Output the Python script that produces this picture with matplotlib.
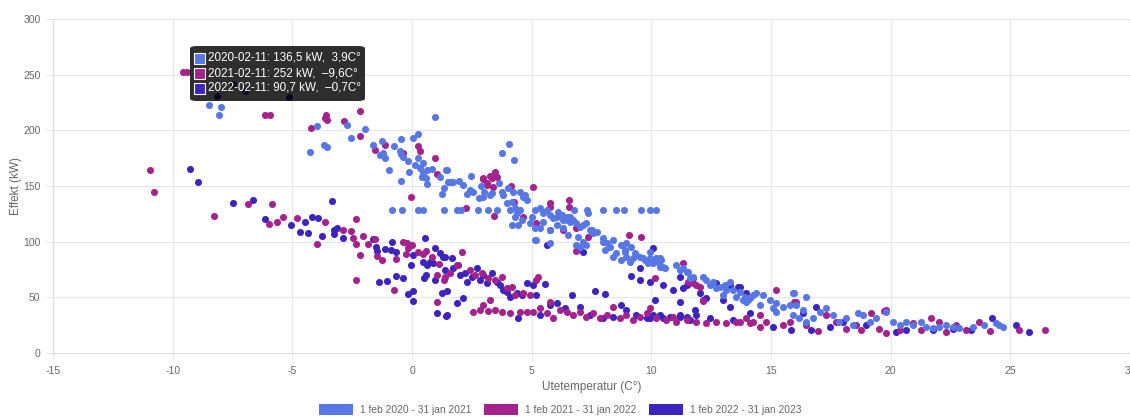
import matplotlib
matplotlib.use("Agg")
import matplotlib.pyplot as plt
from matplotlib.patches import FancyBboxPatch, Rectangle, Patch

plt.rcParams['font.family'] = ['Liberation Sans', 'DejaVu Sans']

# (temperature C, power kW), one list per season
season_labels = ['1 feb 2020 - 31 jan 2021', '1 feb 2021 - 31 jan 2022', '1 feb 2022 - 31 jan 2023']
season_colors = ['#5677E4', '#A4218E', '#3D24BF']

pts_2020 = [
    (-8.47, 223), (-7.97, 221), (-8.05, 214), (-3.95, 204), (-2.73, 205), (-1.95, 201.5), (-2.56, 193),
    (-4.26, 180.6), (-3.66, 187), (-3.56, 185.4), (0.95, 212), (-1.64, 187), (-1.25, 190.7), (-0.75, 186.3),
    (-0.45, 192.3), (0.06, 193.4), (0.24, 196.5), (-1.34, 178), (-1.14, 175), (-1.2, 179.4), (-0.5, 181),
    (-0.36, 176.4), (-0.45, 178.5), (-0.15, 172.8), (0.26, 175.5), (0.14, 168.9), (0.45, 170.4), (0.33, 165.9),
    (0.47, 161.4), (0.64, 164.4), (0.82, 165.3), (0.64, 151.6), (0.58, 157), (0.4, 158.4), (1.17, 158),
    (1.42, 164.4), (1.52, 154), (1.34, 148.5), (1.25, 143), (-0.95, 164), (-0.45, 154.8), (-0.14, 162.3),
    (-0.85, 128), (-0.43, 128), (0.26, 128), (0.45, 128), (1.34, 128), (1.87, 128), (2.03, 128), (2.74, 128),
    (3.16, 128), (3.56, 128), (6.77, 128), (7.33, 128), (7.96, 128), (8.54, 128), (8.85, 128), (9.56, 128),
    (9.96, 128), (10.18, 128),
    (4.06, 188), (3.74, 179.4), (4.26, 173.4), (1.45, 164.4), (1.62, 154), (1.7, 153.3), (1.97, 154.5),
    (2.12, 151), (2.45, 159), (2.28, 142.6), (2.56, 144.4), (2.42, 146.5), (2.87, 150), (2.95, 140.4),
    (2.81, 139), (3.02, 145), (3.26, 142), (3.33, 144), (3.64, 152.5), (3.74, 145), (3.81, 142), (4.02, 148),
    (4.23, 145), (4.16, 136), (3.95, 134.5), (4.51, 145), (4.72, 142), (4.79, 137.5), (4.3, 130), (4.51, 128.5),
    (4.37, 125.5),
    (5.0, 122.5), (5.13, 128), (5.34, 130), (5.48, 125.5), (5.62, 128.5), (5.76, 124), (5.9, 121), (6.04, 122.5),
    (6.11, 127), (6.25, 124), (6.32, 119.5), (6.46, 122.5), (6.59, 118), (6.73, 119.5), (6.87, 116.5),
    (7.01, 113.5), (7.15, 115), (7.29, 117), (7.36, 125.5), (7.5, 110.5), (7.57, 107.5), (7.71, 109),
    (7.98, 103), (8.13, 98.5), (8.05, 92.5), (8.26, 95.5), (8.4, 86.5), (8.54, 89.5), (8.75, 83.6),
    (8.89, 92.5), (8.96, 98.5), (9.17, 95.5), (9.31, 89.5), (9.52, 86.5), (9.72, 83.6), (9.93, 85),
    (10.07, 80.6), (10.21, 85), (10.42, 83.6),
    (4.65, 140.4), (4.09, 128.5), (4.3, 122.5), (4.58, 119.5), (4.44, 115), (4.92, 116.5), (5.13, 112),
    (5.2, 101.5), (5.76, 98.5), (6.94, 104.5), (7.15, 100), (7.29, 97), (7.01, 95.5),
    (4.16, 115), (5.13, 101.5), (5.34, 112), (5.76, 110.5), (5.48, 118), (6.04, 115), (6.32, 112),
    (6.46, 119.5), (6.59, 122.5), (6.53, 106), (6.87, 97), (7.43, 110.5), (7.98, 100), (8.4, 101.5),
    (8.75, 97), (8.89, 91), (8.96, 86.5), (9.24, 85), (9.1, 82), (9.38, 88), (9.66, 85), (9.86, 80.5),
    (10.28, 82), (10.35, 77.5), (9.93, 91),
    (10.56, 76), (11.05, 79), (11.19, 74.6), (11.53, 73), (11.74, 68.5), (12.16, 68.5), (12.3, 65.6),
    (12.58, 64), (12.86, 59.6), (13.06, 61), (13.13, 56.6), (13.41, 56.6), (13.69, 55), (13.9, 50.6),
    (14.04, 47.6),
    (10.07, 83.6), (10.35, 85), (10.49, 77.5), (11.32, 76), (11.47, 73), (11.6, 67), (12.44, 61),
    (12.72, 58.1), (13.27, 64), (12.99, 52.1), (13.55, 50.6), (13.83, 47.6), (14.11, 49.1), (14.39, 53.6),
    (14.66, 52.1), (14.94, 47.6), (15.22, 44.6), (15.5, 41.6), (15.92, 53.6), (16.06, 43.1), (16.47, 50.6),
    (16.33, 38.6),
    (13.97, 46.1), (14.25, 52.1), (14.52, 43.1), (15.08, 40.1), (15.22, 37.1), (15.78, 43.1), (15.98, 53.6),
    (15.92, 34.1), (16.19, 31.1), (16.47, 28.1), (16.75, 31.1), (17.03, 37.1), (17.31, 40.1), (17.59, 34.1),
    (17.86, 28.1), (18.14, 31.1), (18.42, 25.2), (18.63, 35.6), (18.84, 34.1), (19.12, 28.1), (19.4, 31.1),
    (19.81, 37.1), (20.09, 28.1), (20.37, 25.2), (20.65, 28.1), (20.92, 25.2), (21.27, 28.1), (21.48, 23.7),
    (21.76, 22.1), (22.04, 23.7), (22.32, 25.2), (22.6, 23.7), (22.87, 22.1), (23.43, 23.7), (23.92, 25.2),
    (24.4, 26.7), (24.68, 23.7), (24.54, 25.2),
]

pts_2021 = [
    (-9.56, 252), (-9.4, 252), (-6.15, 214), (-5.95, 214), (-4.24, 202), (-3.6, 214), (-3.55, 209),
    (-3.65, 211), (-2.17, 217), (-2.84, 208), (-2.17, 195), (-1.53, 182), (-1.14, 186.5), (0.25, 186),
    (0.33, 181), (-0.36, 180), (0.95, 175), (1.06, 161), (-0.05, 140), (-10.96, 164.4), (-10.77, 144.7),
    (-6.86, 134), (-8.26, 123), (-5.86, 134), (-2.35, 120.4),
    (-5.96, 116), (-5.65, 118), (-5.37, 122.5), (-4.81, 121.6), (-3.95, 98), (-3.63, 118), (-2.87, 110.5),
    (-2.56, 109.6), (-2.45, 103.6), (-2.35, 97.6), (-2.06, 105.4), (-2.17, 88), (-1.82, 97.6), (-1.54, 102.4),
    (-1.45, 87), (-1.25, 83.6), (-0.67, 84.4), (-0.36, 100), (-0.22, 98.5), (-0.15, 94), (0.0, 97),
    (-0.26, 88.7), (0.26, 90.4), (0.45, 88.7), (0.58, 91.6), (0.83, 86.5), (1.14, 79.7), (1.06, 70),
    (1.34, 65.6), (-2.35, 66), (-0.75, 56.3), (1.06, 46),
    (2.95, 156.3), (3.14, 152.5), (3.33, 157.5), (3.46, 163), (3.54, 158.4), (4.13, 150), (5.04, 149.5),
    (4.26, 136), (5.76, 134.5), (5.76, 131.4), (6.57, 137.5), (6.57, 131.4), (2.25, 130.5), (3.43, 123.4),
    (2.98, 157), (3.26, 159), (3.39, 149.4), (3.12, 151), (4.65, 122.5), (5.2, 116.5), (5.76, 110.5),
    (9.07, 106), (9.56, 104.5), (7.36, 104.5), (6.32, 110.5), (6.87, 112), (6.84, 91.6), (11.32, 80.6),
    (11.53, 64), (11.88, 61), (12.16, 46.7),
    (1.38, 68.5), (1.59, 71.6), (1.87, 79), (2.07, 91), (2.42, 74.6), (2.63, 70), (2.91, 71.6), (3.19, 67),
    (3.46, 65.6), (3.74, 68.5), (3.95, 58), (4.16, 59.6), (4.3, 52), (4.65, 53.6), (4.93, 52), (5.27, 68.5),
    (5.2, 65.6),
    (2.56, 37), (2.84, 38.6), (3.19, 37.7), (3.46, 38.6), (3.74, 37), (4.09, 35.6), (4.51, 37), (4.79, 36.5),
    (3.26, 47.6), (2.98, 43),
    (5.06, 37), (5.34, 40), (5.62, 35.6), (5.9, 31), (5.76, 46), (6.18, 38.6), (6.46, 37), (6.73, 34),
    (7.01, 37), (7.29, 32.6), (7.57, 35.6), (7.85, 31), (8.13, 34), (8.4, 41.6), (8.68, 31), (8.96, 34),
    (9.24, 29.6), (9.52, 32.6), (9.8, 35.6), (9.93, 40), (10.21, 31), (10.63, 29.6), (10.91, 32.6), (11.05, 28),
    (10.14, 67), (11.74, 62.6), (12.02, 59.6), (15.22, 56.6), (15.98, 46), (19.81, 38.6),
    (11.47, 29.6), (11.88, 28), (12.3, 26.7), (12.72, 28), (13.13, 26.7), (13.55, 28), (14.11, 26.7),
    (14.52, 23.7), (14.8, 28),
    (13.69, 28), (13.97, 31), (14.25, 28), (14.52, 34), (15.5, 25.2), (15.78, 28), (16.06, 46), (16.47, 25.2),
    (16.96, 19.8), (17.31, 34), (17.73, 28), (18.14, 22), (18.56, 25.2), (18.77, 20.7), (19.18, 35.6),
    (19.53, 22), (19.74, 37.7), (19.81, 17.7), (20.37, 20.7), (20.92, 26.7), (21.27, 20.7), (21.69, 31),
    (22.04, 28), (22.32, 19.2), (22.74, 25.2), (23.16, 20.7), (23.71, 28), (24.13, 19.8), (25.38, 20.7),
    (26.46, 20.7),
]

pts_2022 = [
    (-8.15, 231), (-7.47, 242), (-6.97, 235), (-5.16, 230),
    (-9.27, 165.3), (-8.96, 154), (-7.46, 134.5), (-6.65, 137), (-3.35, 136.6),
    (-6.14, 120.4), (-5.05, 115), (-4.47, 118), (-4.67, 108.4), (-4.35, 108), (-3.77, 105), (-4.19, 122.5),
    (-3.91, 121), (-3.24, 110.5), (-3.14, 112.6), (-3.26, 107), (-2.87, 103), (-1.61, 102.4), (-1.5, 95.5),
    (-1.45, 91.6), (-1.13, 93.4), (-0.89, 92.3), (-0.85, 100), (-0.67, 90.4), (0.06, 88), (0.54, 103.6),
    (-0.05, 79), (0.47, 82), (0.64, 79), (0.75, 82), (0.58, 70), (0.51, 67), (0.89, 80.5), (0.95, 94),
    (1.17, 89.5), (1.38, 86.5), (0.96, 65.6), (-1.36, 63.5), (-1.06, 65), (-0.67, 69.5), (-0.36, 67.7),
    (-0.15, 52.7), (0.06, 55.7), (0.06, 46.7), (1.06, 35.6), (1.42, 33.5), (1.24, 53.6), (1.47, 55.7),
    (1.31, 86.5), (1.66, 85), (1.38, 74.6), (1.73, 76), (1.93, 79), (2.0, 70), (2.21, 71.6), (2.28, 64),
    (2.49, 68.5), (2.7, 76), (2.84, 65.6), (2.98, 70), (3.12, 62.6), (3.33, 71.6), (3.54, 64), (3.67, 61),
    (3.81, 56.6), (3.95, 55), (4.09, 50.6), (4.37, 53.6), (4.58, 52), (4.79, 62.6), (5.06, 61), (5.2, 52),
    (5.55, 61.7),
    (1.45, 34), (1.87, 44.6), (2.14, 49), (4.44, 31.7),
    (5.34, 34), (5.76, 43), (6.04, 44.6), (6.39, 40), (6.67, 52), (7.01, 41.6), (7.64, 55.7), (8.06, 52.7),
    (7.43, 34), (7.98, 31), (8.4, 32.6), (8.75, 43), (8.96, 38.6), (9.38, 34), (9.8, 31), (10.07, 34),
    (10.35, 34), (10.77, 32.6), (11.19, 34), (11.47, 32.6), (11.88, 34),
    (7.15, 91), (5.62, 97), (9.52, 76), (10.07, 94), (9.17, 69), (9.52, 65.6), (9.93, 64),
    (11.19, 68.5), (11.47, 61), (11.74, 67), (12.02, 53.6), (12.3, 49), (13.0, 47.6), (13.27, 41.6),
    (13.62, 59.6), (13.97, 53.6),
    (10.49, 61), (10.91, 56.6), (11.32, 58), (10.14, 47.6), (11.18, 46), (11.81, 38.6), (12.16, 47.6),
    (12.72, 62.6), (13.27, 61),
    (9.93, 31), (10.49, 31), (11.18, 32.6), (11.6, 29.6), (12.44, 31), (13.41, 29.6),
    (13.69, 59.6), (14.11, 35.6), (15.08, 23.7), (15.84, 20.7), (16.33, 35.6), (16.89, 41.6), (16.68, 20.7),
    (17.45, 23.7), (18.0, 28), (18.98, 25.2), (20.23, 19.2), (20.65, 20.7), (21.76, 20.7), (22.6, 22),
    (23.36, 20.7), (24.23, 31.7), (25.22, 25.2), (25.76, 18.6),
]

tooltip_lines = [
    '2020-02-11: 136,5 kW,  3,9C°',
    '2021-02-11: 252 kW,  –9,6C°',
    '2022-02-11: 90,7 kW,  –0,7C°',
]

x_ticks = [-15, -10, -5, 0, 5, 10, 15, 20, 25, 30]
y_ticks = [0, 50, 100, 150, 200, 250, 300]

W, H = 1130, 417
fig = plt.figure(figsize=(W / 100, H / 100), dpi=100)
ax = fig.add_axes([53 / W, 64 / H, 1077 / W, 334 / H])

grid_c = '#e6e6e6'
text_c = '#666666'

all_pts = [pts_2020, pts_2021, pts_2022]
# later seasons drawn first so the first season ends on top
for i in [2, 1, 0]:
    xs, ys = zip(*all_pts[i])
    ax.scatter(xs, ys, s=26, color=season_colors[i], linewidths=0, zorder=3 + (2 - i))

ax.set_xlim(-15, 30)
ax.set_ylim(0, 300)
ax.set_xticks(x_ticks)
ax.set_yticks(y_ticks)
ax.set_xticklabels([str(t) for t in x_ticks])
ax.grid(True, color=grid_c, linewidth=0.8, zorder=0)
ax.set_axisbelow(True)
for side in ['top', 'right']:
    ax.spines[side].set_visible(False)
for side in ['left', 'bottom']:
    ax.spines[side].set_color('#dcdcdc')
    ax.spines[side].set_linewidth(0.8)
ax.tick_params(axis='both', colors=grid_c, labelcolor=text_c, labelsize=7.5, length=5, width=0.8, pad=4)
ax.set_xlabel('Utetemperatur (C°)', color=text_c, fontsize=8.5, labelpad=4)
ax.set_ylabel('Effekt (kW)', color=text_c, fontsize=8.5, labelpad=1)

# tooltip box (figure pixel coordinates)
def fx(px):
    return px / W

def fy(py):
    return 1 - py / H

tip = FancyBboxPatch((fx(190), fy(101)), fx(365) - fx(190), fy(46) - fy(101),
                     boxstyle='round,pad=0,rounding_size=0.006', transform=fig.transFigure,
                     facecolor=(0, 0, 0, 0.82), edgecolor='none', zorder=10)
fig.patches.append(tip)
row_y = [58, 73, 88]
for j, line in enumerate(tooltip_lines):
    sq = Rectangle((fx(194), fy(row_y[j] + 6)), fx(11), 11 / H, transform=fig.transFigure,
                   facecolor=season_colors[j], edgecolor='white', linewidth=0.8, zorder=11)
    fig.patches.append(sq)
    fig.text(fx(208), fy(row_y[j]), line, color='white', fontsize=8.4, va='center', ha='left', zorder=12)

handles = [Patch(facecolor=c, edgecolor='none') for c in season_colors]
fig.legend(handles, season_labels, loc='center', bbox_to_anchor=(0.496, 0.018), ncol=3, frameon=False,
           fontsize=7.4, labelcolor=text_c, handlelength=3.3, handleheight=1.4, handletextpad=0.7,
           columnspacing=1.2)

fig.savefig('out.png', dpi=100, facecolor='white')
